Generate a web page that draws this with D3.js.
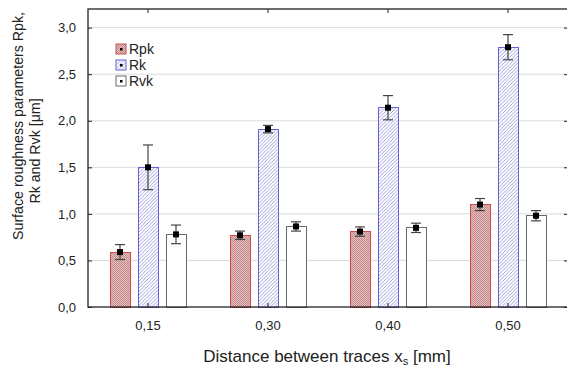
<!DOCTYPE html>
<html>
<head>
<meta charset="utf-8">
<script src="https://cdn.jsdelivr.net/npm/d3@7"></script>
<style>
html,body{margin:0;padding:0;background:#fff;}
svg{display:block;font-family:"Liberation Sans",Arial,sans-serif;}
</style>
</head>
<body>
<svg id="chart" width="567" height="369"></svg>
<script>
const categories = ["0,15", "0,30", "0,40", "0,50"];
const seriesNames = ["Rpk", "Rk", "Rvk"];
const rpkValues = [0.59, 0.77, 0.81, 1.10];
const rpkErrors = [0.08, 0.045, 0.05, 0.065];
const rkValues = [1.50, 1.91, 2.14, 2.79];
const rkErrors = [0.24, 0.04, 0.13, 0.135];
const rvkValues = [0.78, 0.865, 0.85, 0.98];
const rvkErrors = [0.10, 0.05, 0.05, 0.055];
const yTicks = [0, 0.5, 1.0, 1.5, 2.0, 2.5, 3.0];

const seriesValues = [rpkValues, rkValues, rvkValues];
const seriesErrors = [rpkErrors, rkErrors, rvkErrors];

const svg = d3.select("#chart");
const mLeft = 88, mRight = 568, mTop = 9, mBottom = 307;

const defs = svg.append("defs");
const p1 = defs.append("pattern").attr("id","patRpk").attr("patternUnits","userSpaceOnUse").attr("width",2).attr("height",2);
p1.append("rect").attr("width",2).attr("height",2).attr("fill","#e4c0c0");
p1.append("rect").attr("width",1).attr("height",1).attr("fill","#c48a8a");
p1.append("rect").attr("x",1).attr("y",1).attr("width",1).attr("height",1).attr("fill","#c48a8a");
const p2 = defs.append("pattern").attr("id","patRk").attr("patternUnits","userSpaceOnUse").attr("width",3.5).attr("height",3.5);
p2.append("rect").attr("width",3.5).attr("height",3.5).attr("fill","#fff");
p2.append("path").attr("d","M-1,1 L1,-1 M0,3.5 L3.5,0 M2.5,4.5 L4.5,2.5").attr("stroke","#8a8ad8").attr("stroke-width",0.8);

const fills = ["url(#patRpk)", "url(#patRk)", "#ffffff"];
const strokes = ["#cc4c4c", "#6464d8", "#6a6a6a"];

const x = d3.scaleBand().domain(categories).range([mLeft, mRight]).padding(0);
const xs = d3.scaleBand().domain(seriesNames).range([-42, 42]).paddingInner(8/28).paddingOuter(4/28);
const y = d3.scaleLinear().domain([0, 3.2]).range([mBottom, mTop]);

svg.append("g").selectAll("line").data(yTicks.filter(d => d > 0)).join("line")
  .attr("x1", mLeft).attr("x2", mRight)
  .attr("y1", d => y(d)).attr("y2", d => y(d))
  .attr("stroke", "#dcdcdc").attr("stroke-width", 1);

const barsG = svg.append("g");
seriesNames.forEach((s, si) => {
  const g = barsG.append("g");
  g.selectAll("rect").data(categories).join("rect")
    .attr("x", (c) => x(c) + x.bandwidth()/2 + xs(s))
    .attr("width", xs.bandwidth())
    .attr("y", (c, i) => y(seriesValues[si][i]))
    .attr("height", (c, i) => y(0) - y(seriesValues[si][i]))
    .attr("fill", fills[si])
    .attr("stroke", strokes[si]).attr("stroke-width", 1)
    .attr("shape-rendering", "crispEdges");
});

seriesNames.forEach((s, si) => {
  const g = svg.append("g");
  categories.forEach((c, i) => {
    const cx = x(c) + x.bandwidth()/2 + xs(s) + xs.bandwidth()/2;
    const v = seriesValues[si][i], e = seriesErrors[si][i];
    g.append("line").attr("x1", cx).attr("x2", cx).attr("y1", y(v+e)).attr("y2", y(v-e))
      .attr("stroke", "#444").attr("stroke-width", 1.2);
    [v+e, v-e].forEach(t => {
      g.append("line").attr("x1", cx-5).attr("x2", cx+5).attr("y1", y(t)).attr("y2", y(t))
        .attr("stroke", "#444").attr("stroke-width", 1.2);
    });
    g.append("rect").attr("x", cx-3).attr("y", y(v)-3).attr("width", 6).attr("height", 6).attr("fill", "#000");
  });
});

svg.append("rect").attr("x", mLeft).attr("y", mTop).attr("width", mRight-mLeft).attr("height", mBottom-mTop)
  .attr("fill", "none").attr("stroke", "#222").attr("stroke-width", 1.3);

const yAxis = d3.axisLeft(y).tickValues(yTicks).tickSize(-4).tickPadding(12)
  .tickFormat(d => d3.format(".1f")(d).replace(".", ","));
const ya = svg.append("g").attr("transform", `translate(${mLeft},0)`).call(yAxis);
ya.select(".domain").remove();
ya.selectAll("line").attr("stroke", "#222");
ya.selectAll("text").attr("font-size", 13).attr("fill", "#222").attr("font-family", "Liberation Sans, Arial, sans-serif");

const yAxisR = d3.axisRight(y).tickValues(yTicks).tickSize(-4).tickFormat("");
const yr = svg.append("g").attr("transform", `translate(${mRight},0)`).call(yAxisR);
yr.select(".domain").remove();
yr.selectAll("line").attr("stroke", "#222");

const xAxis = d3.axisBottom(x).tickSize(-4).tickPadding(14);
const xa = svg.append("g").attr("transform", `translate(0,${mBottom})`).call(xAxis);
xa.select(".domain").remove();
xa.selectAll("line").attr("stroke", "#222");
xa.selectAll("text").attr("font-size", 13).attr("fill", "#222").attr("font-family", "Liberation Sans, Arial, sans-serif");

const xAxisT = d3.axisTop(x).tickSize(-4).tickFormat("");
const xt = svg.append("g").attr("transform", `translate(0,${mTop})`).call(xAxisT);
xt.select(".domain").remove();
xt.selectAll("line").attr("stroke", "#222");

const leg = svg.append("g").attr("transform", "translate(116,44)");
seriesNames.forEach((s, i) => {
  const gy = i * 16;
  leg.append("rect").attr("x", 0).attr("y", gy).attr("width", 10).attr("height", 10)
    .attr("fill", fills[i]).attr("stroke", strokes[i]).attr("stroke-width", 1);
  leg.append("rect").attr("x", 4).attr("y", gy+4).attr("width", 2.5).attr("height", 2.5).attr("fill", "#000");
  leg.append("text").attr("x", 13).attr("y", gy + 5).attr("dy", "0.35em")
    .attr("font-size", 14).attr("fill", "#222").text(s);
});

svg.append("text").attr("transform", "translate(22.5,126) rotate(-90)")
  .attr("text-anchor", "middle").attr("font-size", 14.2).attr("fill", "#222")
  .text("Surface roughness parameters Rpk,");
svg.append("text").attr("transform", "translate(39.5,151) rotate(-90)")
  .attr("text-anchor", "middle").attr("font-size", 14.2).attr("fill", "#222")
  .text("Rk and Rvk [μm]");

const xt2 = svg.append("text").attr("x", 327).attr("y", 362).attr("text-anchor", "middle")
  .attr("font-size", 17).attr("fill", "#222");
xt2.append("tspan").text("Distance between traces x");
xt2.append("tspan").attr("font-size", 11).attr("dy", 3).text("s");
xt2.append("tspan").attr("dy", -3).text(" [mm]");
</script>
</body>
</html>
